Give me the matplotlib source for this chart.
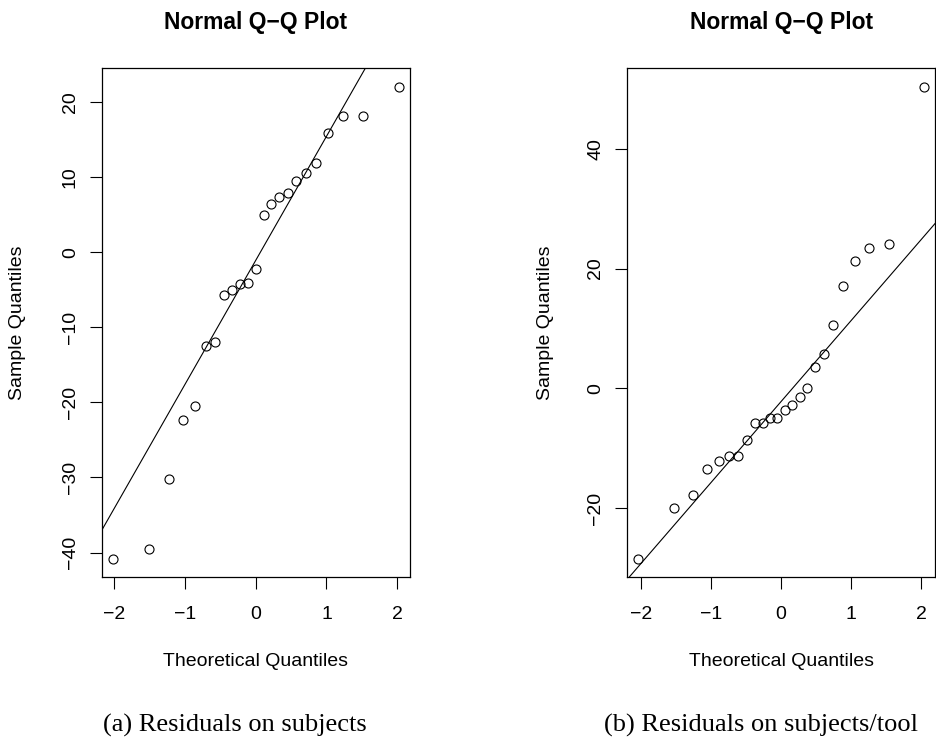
# -*- coding: utf-8 -*-
"""
Normal Q-Q plots of the residuals (subjects, subjects/tool)
"""

import numpy as np
import matplotlib.pyplot as plt

plt.rcParams['font.family'] = 'Liberation Sans'
plt.rcParams['axes.unicode_minus'] = True

#------------------------------------------------------------------------------
# data
#
# (a) residuals on subjects, n = 23
theo_a = [-2.019, -1.512, -1.234, -1.027, -0.857, -0.709, -0.575, -0.451,
          -0.333, -0.219, -0.109, 0.0, 0.109, 0.219, 0.333, 0.451,
          0.575, 0.709, 0.857, 1.027, 1.234, 1.512, 2.019]
resid_a = [-40.8, -39.5, -30.2, -22.4, -20.5, -12.5, -11.9, -5.7,
           -5.0, -4.3, -4.1, -2.3, 4.9, 6.4, 7.4, 7.9,
           9.5, 10.6, 11.9, 15.9, 18.1, 18.1, 22.0]

# (b) residuals on subjects/tool, n = 24
theo_b = [-2.037, -1.534, -1.258, -1.054, -0.887, -0.742, -0.611, -0.489,
          -0.374, -0.264, -0.157, -0.052, 0.052, 0.157, 0.264, 0.374,
          0.489, 0.611, 0.742, 0.887, 1.054, 1.258, 1.534, 2.037]
resid_b = [-28.4, -19.9, -17.8, -13.5, -12.1, -11.3, -11.3, -8.6,
           -5.7, -5.8, -4.9, -4.9, -3.6, -2.8, -1.4, 0.0,
           3.5, 5.7, 10.6, 17.0, 21.2, 23.4, 24.1, 50.3]

captions = ['(a) Residuals on subjects', '(b) Residuals on subjects/tool']
yticks_a = [-40, -30, -20, -10, 0, 10, 20]
yticks_b = [-20, 0, 20, 40]
xticks = [-2, -1, 0, 1, 2]

# plotting settings
tsize = 16.5   # title
lsize = 14     # axis labels / ticks
csize = 19     # captions
msize = 6.5

#------------------------------------------------------------------------------
fig = plt.figure(figsize=[9.36, 7.4], dpi=100)

panels = [(theo_a, resid_a, yticks_a, 0.10865, 0.0192),
          (theo_b, resid_b, yticks_b, 0.66987, 0.5823)]

for k, (x, y, yt, left, ylab_x) in enumerate(panels):
    ax = fig.add_axes([left, 0.2196, 0.3293, 0.6885])
    x = np.array(x)
    y = np.array(y)

    ax.plot(x, y, linestyle='', marker='o', markersize=msize,
            markerfacecolor='none', markeredgecolor='k', markeredgewidth=0.8)

    # qqline through the quartiles
    q1, q3 = np.percentile(y, [25, 75])
    slope = (q3 - q1) / (2 * 0.6744898)
    inter = q1 + 0.6744898 * slope
    ax.axline((0, inter), slope=slope, color='k', linewidth=0.8)

    # R style 4% padding
    xr = x.max() - x.min()
    yr = y.max() - y.min()
    ax.set_xlim(x.min() - 0.04 * xr, x.max() + 0.04 * xr)
    ax.set_ylim(y.min() - 0.04 * yr, y.max() + 0.04 * yr)

    ax.set_xticks(xticks)
    ax.set_yticks(yt)
    ax.tick_params(direction='out', length=8.5, width=0.8, labelsize=lsize)
    ax.tick_params(axis='x', pad=12)
    ax.tick_params(axis='y', labelrotation=90, pad=8)
    for lab in ax.get_yticklabels():
        lab.set_verticalalignment('center')
    for s in ax.spines.values():
        s.set_linewidth(0.9)

    xc = left + 0.3293 / 2
    fig.text(xc, 0.969, 'Normal Q\u2212Q Plot', ha='center', va='center',
             fontsize=tsize, fontweight='bold')
    fig.text(xc, 0.106, 'Theoretical Quantiles', ha='center', va='center',
             fontsize=lsize)
    fig.text(ylab_x, 0.2196 + 0.6885 / 2, 'Sample Quantiles', ha='center',
             va='center', rotation=90, fontsize=lsize)
    fig.text(xc - 0.022, 0.0203, captions[k], ha='center', va='center',
             fontsize=csize, family='Liberation Serif')

plt.savefig('out.png', dpi=100)
